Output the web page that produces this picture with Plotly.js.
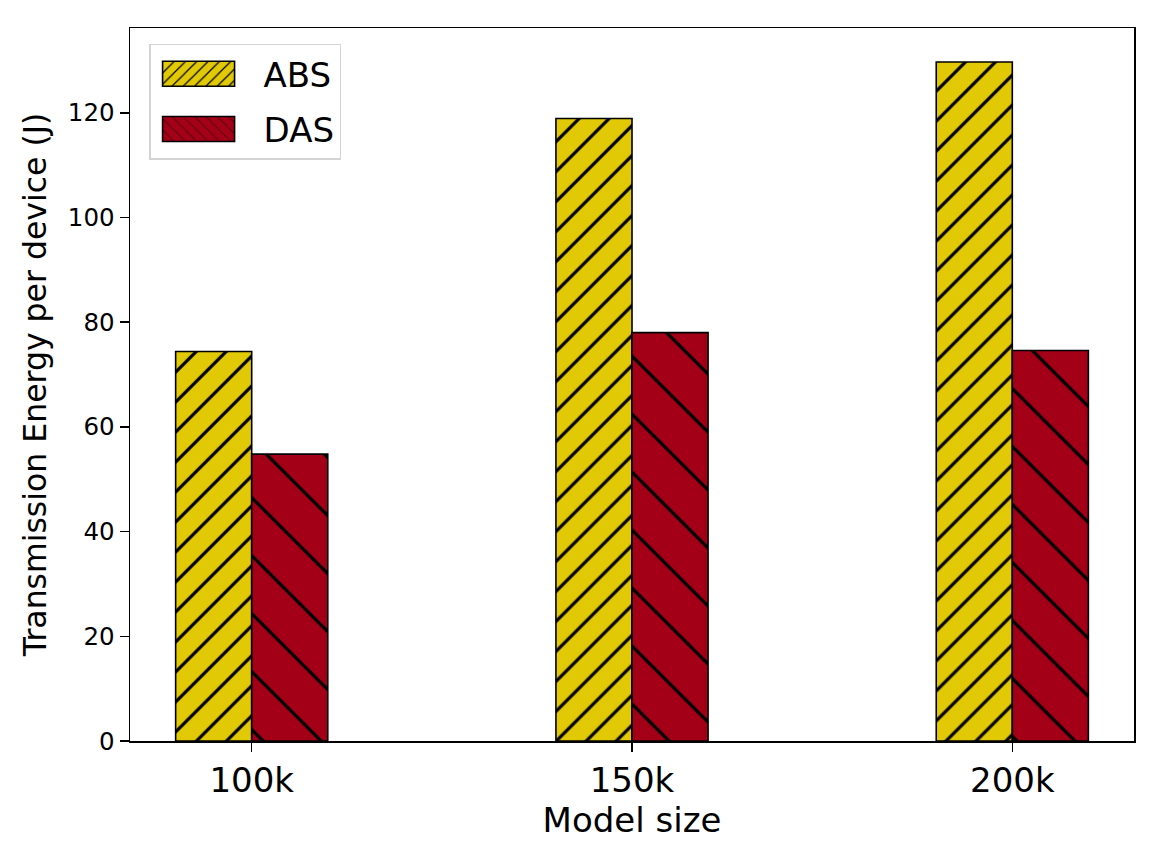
<!DOCTYPE html>
<html>
<head>
<meta charset="utf-8">
<script src="https://cdn.plot.ly/plotly-3.0.1.min.js"></script>
<style>
  html, body { margin: 0; padding: 0; background: #fff; }
  #chart { width: 1162px; height: 864px; }
</style>
</head>
<body>
<div id="chart"></div>
<script>
/* global Plotly */

const modelSizes = ['100k', '150k', '200k'];
const absEnergy = [74.4, 118.9, 129.7];
const dasEnergy = [54.8, 78.0, 74.6];
const yTicks = [0, 20, 40, 60, 80, 100, 120];

const FONT = 'DejaVu Sans, sans-serif';

const traces = [
  {
    type: 'bar',
    name: 'ABS',
    legendgroup: 'abs',
    x: modelSizes,
    y: absEnergy,
    marker: {
      color: '#e1c905',
      line: { color: '#000', width: 1.6 },
      pattern: {
        shape: '/', size: 21.2, solidity: 0.15, fgcolor: '#000', fgopacity: 1, fillmode: 'overlay',
      },
    },
  },
  {
    type: 'bar',
    name: 'DAS',
    legendgroup: 'das',
    x: modelSizes,
    y: dasEnergy,
    marker: {
      color: '#a30017',
      line: { color: '#000', width: 1.6 },
      pattern: {
        shape: '\\', size: 41, solidity: 0.078, fgcolor: '#000', fgopacity: 1, fillmode: 'overlay',
      },
    },
  },
];

const axisCommon = {
  showline: true,
  mirror: true,
  linecolor: '#000',
  linewidth: 1.5,
  ticks: 'outside',
  ticklen: 9,
  tickwidth: 1.5,
  tickcolor: '#000',
  showgrid: false,
  zeroline: false,
};

const layout = {
  width: 1162,
  height: 864,
  margin: { l: 130, r: 28, t: 28, b: 123 },
  paper_bgcolor: '#fff',
  plot_bgcolor: '#fff',
  font: { family: FONT, color: '#000' },
  barmode: 'group',
  bargap: 0.6,
  bargroupgap: 0,
  showlegend: true,
  legend: {
    x: 0.019,
    y: 0.978,
    xanchor: 'left',
    yanchor: 'top',
    bgcolor: '#fff',
    bordercolor: '#d4d4d4',
    borderwidth: 1.5,
    font: { family: FONT, size: 34 },
    itemwidth: 103,
    traceorder: 'grouped',
    tracegroupgap: 8,
  },
  xaxis: Object.assign({}, axisCommon, {
    type: 'category',
    range: [-0.32, 2.32],
    tickfont: { family: FONT, size: 34 },
    title: { text: 'Model size', font: { family: FONT, size: 34 }, standoff: 8 },
  }),
  yaxis: Object.assign({}, axisCommon, {
    range: [0, 136.2],
    tickvals: yTicks,
    tickfont: { family: FONT, size: 24.5 },
    title: { text: 'Transmission Energy per device (J)', font: { family: FONT, size: 31.5 }, standoff: 12 },
  }),
};

Plotly.newPlot('chart', traces, layout, { displayModeBar: false, staticPlot: true }).then((gd) => {
  // wide swatches like the original legend, pulled back toward the left edge
  gd.querySelectorAll('.legend .legendpoints path').forEach((p) => {
    p.setAttribute('d', 'M27.5,12.5H-44.5V-12.5H27.5Z');
  });
});
</script>
</body>
</html>
